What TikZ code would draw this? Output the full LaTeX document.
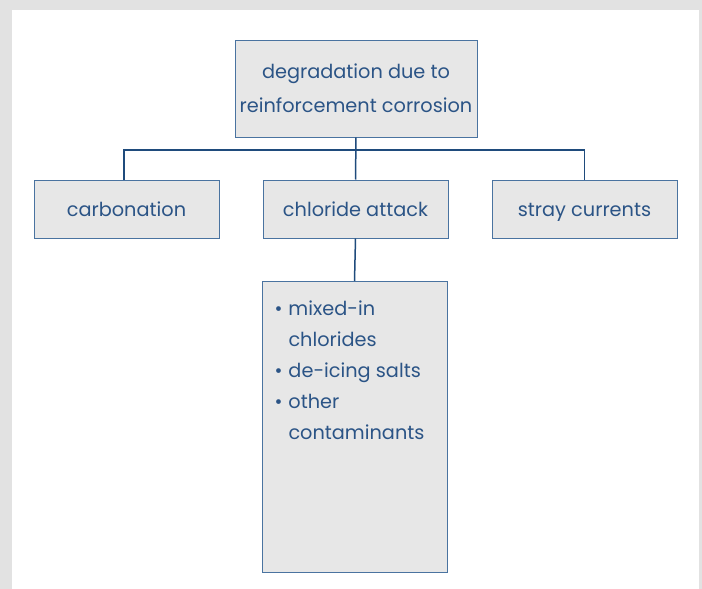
\documentclass[tikz,border=0pt]{standalone}
\usepackage{fontspec}
\setmainfont{Poppins}
\usetikzlibrary{positioning}
\definecolor{boxfill}{HTML}{E7E7E7}
\definecolor{boxline}{HTML}{4A73A0}
\definecolor{boxtext}{HTML}{2B5486}
\definecolor{wireblue}{HTML}{1F4B7C}
\definecolor{marble}{HTML}{E2E2E2}
\newcommand{\bulletline}[2]{\makebox[14pt][l]{\textbullet}#1\\\ifx\relax#2\relax\else\hspace*{14pt}#2\\\fi}

\begin{document}
\begin{tikzpicture}[
      x=1pt,y=-1pt,
      panel/.style={
         rectangle,
         draw=boxline,
         line width=1pt,
         fill=boxfill,
         text=boxtext,
         inner sep=0pt
      },
      category/.style={
         panel,
         font=\fontsize{19.3}{22}\selectfont,
         minimum width=185pt,
         minimum height=58pt,
         text height=14pt,
         text depth=0pt
      },
      heading/.style={
         panel,
         minimum width=242pt,
         minimum height=97pt,
         align=center,
         font=\fontsize{19.3}{34}\selectfont
      },
      causes/.style={
         panel,
         anchor=north,
         align=left,
         minimum width=185pt,
         minimum height=291pt,
         font=\fontsize{19.3}{31}\selectfont
      },
      wire/.style={draw=wireblue,line width=1.5pt}
    ]
    % marble frame and white sheet
    \fill[marble] (0,0) rectangle (702,589);
    \fill[white] (12,10) rectangle (699,589);
    \useasboundingbox (0,0) rectangle (702,589);

    \node (degradation) [heading] at (356,88.5) {degradation due to\\reinforcement corrosion};
    \node (chloride) [category] at (355.5,209) {chloride attack};
    \node (carbonation) [category, left=43pt of chloride] {carbonation};
    \node (stray) [category, right=43pt of chloride] {stray currents};
    \node (sources) [causes] at (354.5,281) {\parbox[t][285pt][t]{160pt}{\vspace*{16pt}%
       \bulletline{mixed-in}{chlorides}%
       \bulletline{de-icing salts}{}%
       \bulletline{other}{contaminants}}};

    \coordinate (bus) at (356,150);
    \draw[wire] (degradation.south) -- (chloride.north);
    \draw[wire] ([xshift=-2.5pt]carbonation.north) |- (bus) -| (stray.north);
    \draw[wire] (chloride.south) -- (sources.north);
\end{tikzpicture}
\end{document}
